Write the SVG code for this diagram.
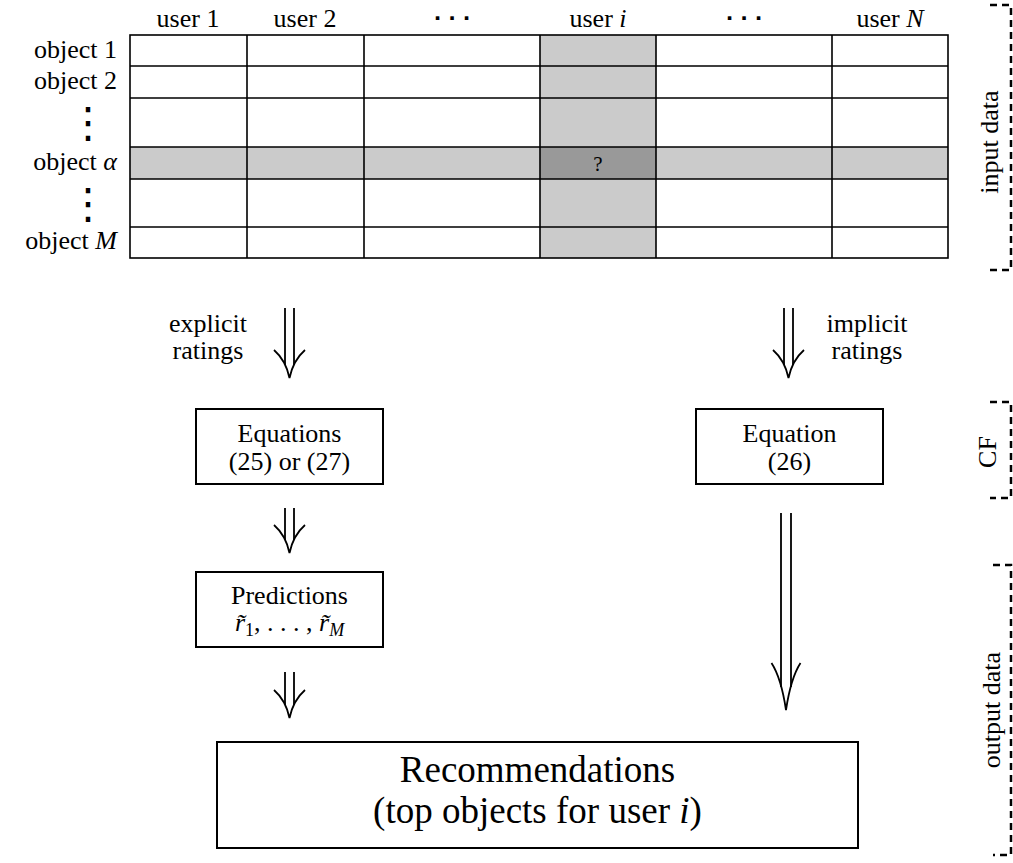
<svg xmlns="http://www.w3.org/2000/svg" width="1013" height="863" viewBox="0 0 1013 863" font-family="'Liberation Serif','Times New Roman','DejaVu Serif','Noto Serif',serif">
<style>
text.t{font-family:'Liberation Serif','Times New Roman','DejaVu Serif','Noto Serif',serif;font-size:26px;fill:#000}
text.big{font-size:37px}
.m{text-anchor:middle}
.e{text-anchor:end}
.i{font-style:italic}
.grid{stroke:#000;stroke-width:1.6;fill:none}
.box{fill:#fff;stroke:#000;stroke-width:2}
.arr{fill:none;stroke:#000;stroke-width:1.8;stroke-linecap:butt}
.br{fill:none;stroke:#000;stroke-width:2.5;stroke-dasharray:7,5}
text.dots{font-family:'DejaVu Sans',sans-serif;fill:#000}
text.hd{font-family:'DejaVu Sans',sans-serif;font-weight:bold;font-size:20px;fill:#000}
</style>
<defs>
<path id="head" d="M-15.5,-28 C-7.5,-21 -2.5,-12 0,0 C2.5,-12 7.5,-21 15.5,-28"/>
</defs>
<rect width="1013" height="863" fill="#fff"/>

<g id="matrix">
<rect x="540" y="35" width="116" height="223" fill="#cbcbcb"/>
<rect x="130" y="147" width="818" height="32" fill="#cbcbcb"/>
<rect x="540" y="147" width="116" height="32" fill="#999"/>
<rect class="grid" x="130" y="35" width="818" height="223"/>
<path class="grid" d="M247,35V258M364,35V258M540,35V258M656,35V258M832,35V258M130,66H948M130,98H948M130,147H948M130,179H948M130,227H948"/>
<text class="t m" x="598" y="171" style="font-size:21px">?</text>
<text class="t m" x="188" y="27">user 1</text>
<text class="t m" x="305" y="27">user 2</text>
<text class="hd m" x="452" y="25">· · ·</text>
<text class="t m" x="598" y="27">user <tspan class="i">i</tspan></text>
<text class="hd m" x="744" y="25">· · ·</text>
<text class="t m" x="890" y="27">user <tspan class="i">N</tspan></text>
<text class="t e" x="117" y="58">object 1</text>
<text class="t e" x="117" y="89">object 2</text>
<text class="dots m" x="88" y="137" style="font-size:42px">⋮</text>
<text class="t e" x="117" y="170">object <tspan class="i">α</tspan></text>
<text class="dots m" x="88" y="218" style="font-size:42px">⋮</text>
<text class="t e" x="117" y="249">object <tspan class="i">M</tspan></text>
</g>

<g id="brackets">
<path class="br" d="M990,5H1011V270H990"/>
<text class="t m" transform="translate(998,142) rotate(-90)">input data</text>
<path class="br" d="M990,402H1011V498H990"/>
<text class="t m" transform="translate(996,452) rotate(-90)">CF</text>
<path class="br" d="M993,565H1011V855H993"/>
<text class="t m" transform="translate(1000,710) rotate(-90)">output data</text>
</g>

<g id="labels">
<text class="t m" x="208" y="332">explicit</text>
<text class="t m" x="208" y="359">ratings</text>
<text class="t m" x="867" y="332">implicit</text>
<text class="t m" x="867" y="359">ratings</text>
</g>

<g id="equations">
<rect class="box" x="196" y="409" width="187" height="75"/>
<text class="t m" x="289.5" y="442">Equations</text>
<text class="t m" x="289.5" y="470">(25) or (27)</text>
</g>

<g id="equation26">
<rect class="box" x="696" y="409" width="187" height="75"/>
<text class="t m" x="789.5" y="442">Equation</text>
<text class="t m" x="789.5" y="470">(26)</text>
</g>

<g id="predictions">
<rect class="box" x="196" y="572" width="187" height="75"/>
<text class="t m" x="289.5" y="604">Predictions</text>
<text class="t m" x="289.5" y="631"><tspan class="i">r̃</tspan><tspan dy="5" style="font-size:18px">1</tspan><tspan dy="-5">, . . . , </tspan><tspan class="i">r̃</tspan><tspan class="i" dy="5" style="font-size:18px">M</tspan></text>
</g>

<g id="recommendations">
<rect class="box" x="217" y="742" width="641" height="106"/>
<text class="t big m" x="537.5" y="782">Recommendations</text>
<text class="t big m" x="537.5" y="823">(top objects for user <tspan class="i">i</tspan>)</text>
</g>

<g id="connectors">
<path class="arr" d="M285,308V365M294,308V365"/>
<use href="#head" class="arr" transform="translate(289.5,378)"/>
<path class="arr" d="M784,308V365M793,308V365"/>
<use href="#head" class="arr" transform="translate(788.5,378)"/>
<path class="arr" d="M285,508V540M294,508V540"/>
<use href="#head" class="arr" transform="translate(289.5,553)"/>
<path class="arr" d="M285,672V705M294,672V705"/>
<use href="#head" class="arr" transform="translate(289.5,718)"/>
<path class="arr" d="M781,513V687M791,513V687"/>
<path class="arr" d="M771.5,663 C778,673 783,690 786,710 C789,690 794,673 800.5,663"/>
</g>
</svg>
